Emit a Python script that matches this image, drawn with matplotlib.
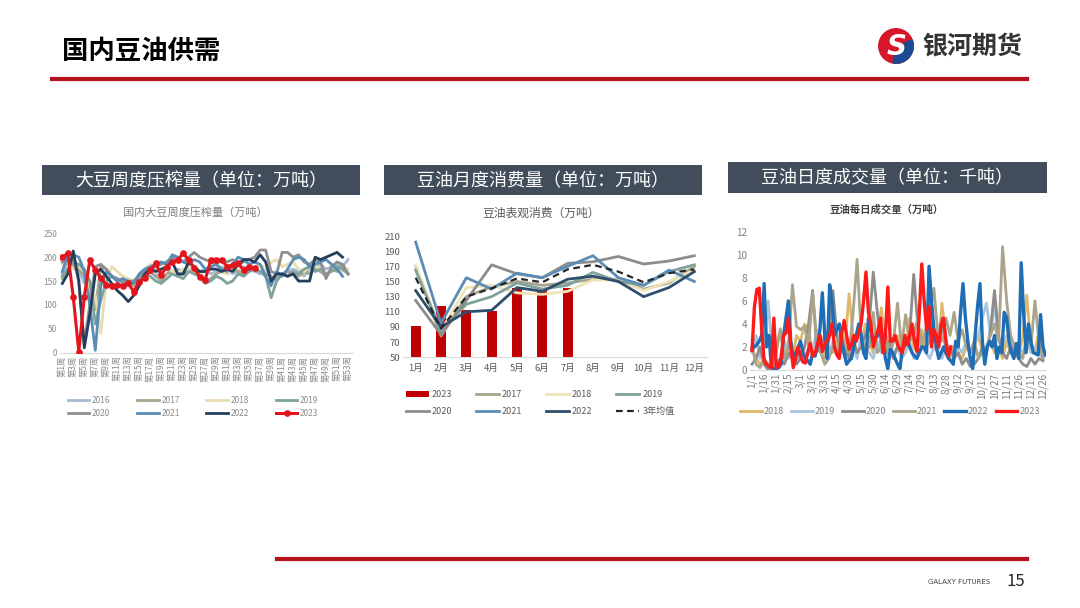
import numpy as np
import matplotlib
matplotlib.use("Agg")
import matplotlib.pyplot as plt
from matplotlib.patches import Rectangle, Wedge, Circle
from matplotlib.lines import Line2D

plt.rcParams['font.family'] = ['Noto Sans CJK SC', 'DejaVu Sans']

W, H = 1080, 608

# ---------------- chart 1: weekly crush (万吨) ----------------
crush_2016 = [165, 190, 185, 170, 145, 150, 100, 155, 165, 160, 150, 155, 150, 145, 160, 165, 170, 160, 170, 175,
              165, 175, 170, 180, 165, 170, 175, 165, 170, 180, 175, 165, 170, 180, 175, 170, 165, 175, 160, 150,
              165, 170, 175, 170, 160, 175, 180, 185, 175, 180, 185, 180, 195]
crush_2017 = [155, 175, 180, 175, 160, 120, 90, 180, 175, 160, 150, 155, 150, 140, 155, 165, 170, 160, 150, 165,
              170, 160, 165, 170, 175, 165, 150, 155, 165, 170, 165, 175, 170, 165, 180, 175, 170, 165, 160, 155,
              165, 170, 165, 160, 170, 165, 175, 170, 160, 175, 170, 185, 165]
crush_2018 = [185, 190, 175, 180, 170, 130, 120, 40, 150, 180, 170, 160, 155, 150, 165, 175, 185, 170, 175, 180,
              170, 165, 175, 180, 170, 160, 175, 180, 185, 170, 165, 175, 180, 170, 175, 180, 185, 175, 190, 195,
              180, 185, 190, 175, 170, 180, 185, 175, 165, 175, 180, 170, 175]
crush_2019 = [160, 175, 190, 185, 175, 150, 60, 110, 150, 160, 155, 145, 150, 150, 160, 165, 160, 150, 145, 155,
              165, 160, 155, 170, 165, 160, 145, 150, 160, 155, 145, 150, 165, 160, 170, 175, 170, 160, 115, 150,
              165, 160, 170, 165, 175, 180, 170, 175, 165, 170, 180, 175, 165]
crush_2020 = [190, 195, 195, 150, 20, 100, 180, 185, 175, 160, 155, 150, 145, 150, 160, 170, 175, 180, 185, 190,
              200, 195, 190, 200, 210, 200, 195, 190, 185, 195, 190, 195, 185, 190, 195, 200, 215, 215, 170, 165,
              210, 210, 200, 205, 190, 185, 195, 190, 155, 180, 190, 185, 165]
crush_2021 = [170, 205, 205, 200, 170, 100, 5, 140, 170, 160, 150, 155, 150, 145, 165, 175, 180, 185, 190, 185,
              205, 200, 190, 185, 195, 190, 175, 180, 185, 175, 170, 185, 200, 195, 185, 190, 185, 160, 140, 170,
              160, 175, 195, 200, 195, 180, 185, 190, 195, 185, 175, 160]
crush_2022 = [145, 165, 213, 150, 10, 80, 165, 175, 160, 145, 130, 120, 107, 120, 140, 165, 175, 170, 175, 180,
              190, 165, 165, 190, 180, 170, 170, 175, 175, 170, 175, 170, 185, 195, 195, 190, 205, 190, 150, 165,
              165, 160, 165, 150, 150, 150, 200, 195, 200, 205, 210, 200]
crush_2023 = [200, 208, 116, 2, 117, 194, 173, 156, 142, 140, 142, 140, 145, 128, 149, 156, 173, 187, 163, 180,
              190, 194, 208, 194, 177, 159, 152, 194, 194, 194, 180, 184, 187, 173, 180, 177]

crush_series = [("2016", crush_2016, "#A3BCD3"), ("2017", crush_2017, "#A5A58D"),
                ("2018", crush_2018, "#E9DDB0"), ("2019", crush_2019, "#7FA39C"),
                ("2020", crush_2020, "#8F8F8F"), ("2021", crush_2021, "#5A8CB6"),
                ("2022", crush_2022, "#243F5E"), ("2023", crush_2023, "#E3151C")]
week_labels = ["第%d周" % w for w in range(1, 54, 2)]

# ---------------- chart 2: monthly consumption (万吨) ----------------
months = ["1月", "2月", "3月", "4月", "5月", "6月", "7月", "8月", "9月", "10月", "11月", "12月"]
cons_2023 = [91, 118, 112, 111, 141, 137, 141]
cons_2017 = [170, 78, 130, 143, 150, 145, 148, 153, 153, 140, 148, 170]
cons_2018 = [172, 85, 142, 145, 135, 133, 137, 152, 152, 138, 150, 165]
cons_2019 = [165, 85, 120, 130, 148, 140, 145, 162, 150, 145, 163, 172]
cons_2020 = [125, 80, 125, 172, 160, 155, 174, 176, 183, 173, 177, 184]
cons_2021 = [202, 95, 155, 140, 161, 155, 170, 184, 155, 145, 165, 150]
cons_2022 = [138, 90, 110, 112, 142, 137, 153, 157, 150, 130, 142, 163]
cons_avg3 = [155, 88, 130, 141, 154, 149, 166, 172, 163, 149, 161, 166]

# ---------------- chart 3: daily volume (万吨) ----------------
date_labels = ["1/1", "1/16", "1/31", "2/15", "3/1", "3/16", "3/31", "4/15", "4/30", "5/15", "5/30", "6/14",
               "6/29", "7/14", "7/29", "8/13", "8/28", "9/12", "9/27", "10/12", "10/27", "11/11", "11/26",
               "12/11", "12/26"]
# 2018-2021 sampled every 5 days, 2022/2023 every 3 days
vol_2018 = [2.0, 1.0, 0.5, 1.0, 0.3, 0.5, 2.0, 3.6, 1.5, 2.5, 1.0, 3.0, 2.5, 4.0, 3.5, 1.5, 2.5, 3.0, 1.0, 2.0,
            1.5, 2.5, 3.0, 2.0, 6.6, 3.0, 1.5, 2.0, 4.0, 2.5, 1.5, 3.0, 5.4, 2.0, 1.5, 2.5, 3.0, 1.5, 2.0, 4.5,
            2.0, 1.5, 3.5, 2.0, 2.5, 3.0, 1.5, 5.8, 2.5, 1.0, 2.0, 1.5, 1.0, 2.0, 1.5, 2.5, 3.0, 1.5, 2.0, 2.5,
            1.5, 2.0, 1.0, 2.5, 1.5, 2.0, 1.0, 3.0, 6.5, 2.0, 1.5, 3.5, 1.0]
vol_2019 = [1.5, 3.0, 1.0, 2.0, 6.0, 1.5, 0.5, 1.0, 2.5, 1.0, 1.5, 0.8, 1.5, 1.0, 2.0, 1.5, 3.5, 1.5, 2.0, 1.0,
            2.5, 1.5, 2.0, 1.0, 1.5, 2.0, 1.0, 3.0, 2.0, 1.5, 1.0, 2.5, 1.5, 2.0, 1.0, 1.5, 2.0, 1.0, 1.5, 2.5,
            1.0, 1.5, 2.0, 1.5, 1.0, 2.0, 1.5, 1.0, 2.0, 1.5, 1.0, 2.0, 1.5, 2.5, 1.5, 2.0, 3.0, 4.5, 5.8, 3.0,
            5.7, 2.5, 2.0, 3.0, 2.5, 1.5, 2.0, 1.5, 2.5, 1.5, 2.0, 1.5, 1.0]
vol_2020 = [0.5, 1.0, 2.0, 0.5, 0.0, 0.3, 0.5, 1.0, 0.5, 1.5, 1.0, 0.5, 1.0, 2.0, 4.0, 6.9, 2.0, 1.5, 3.0, 2.5,
            6.9, 3.0, 1.5, 2.0, 1.0, 2.5, 1.5, 2.0, 3.0, 4.0, 8.5, 5.0, 2.0, 1.5, 2.5, 1.0, 2.0, 1.5, 2.5, 3.0,
            8.3, 4.0, 2.5, 3.0, 7.8, 3.0, 2.0, 4.5, 1.5, 2.0, 1.0, 1.5, 0.5, 1.0, 0.3, 0.5, 1.0, 2.0, 1.5, 3.5,
            6.9, 3.0, 1.5, 1.0, 2.0, 1.5, 1.0, 0.5, 0.3, 1.0, 0.5, 1.0, 0.8]
vol_2021 = [2.0, 0.5, 0.2, 1.0, 0.5, 0.3, 1.5, 3.5, 1.0, 2.0, 7.4, 3.8, 3.5, 3.8, 2.0, 6.7, 2.5, 1.5, 0.5, 1.0,
            2.0, 1.5, 3.5, 2.0, 1.5, 4.9, 9.6, 3.0, 1.5, 2.0, 5.0, 1.5, 2.0, 3.5, 1.0, 2.5, 5.8, 2.0, 4.8, 2.5,
            3.0, 4.5, 2.0, 3.5, 5.0, 7.1, 3.0, 2.5, 4.5, 3.0, 5.0, 2.5, 3.5, 2.0, 1.5, 2.5, 1.0, 1.5, 2.0, 3.0,
            4.0, 2.5, 10.7, 6.0, 3.0, 2.0, 1.5, 1.0, 3.0, 2.0, 6.0, 2.5, 1.0]
vol_2022 = [1.8, 2.0, 2.2, 2.5, 3.0, 7.5, 2.0, 3.0, 0.2, 0.1, 0.1, 0.2, 0.5, 3.0, 4.5, 6.0, 2.5, 1.0, 1.5, 2.0,
            2.5, 1.5, 1.0, 0.8, 0.5, 1.5, 1.2, 2.0, 3.5, 6.7, 3.0, 1.0, 7.4, 6.0, 3.0, 3.5, 4.0, 2.5, 1.5, 0.5,
            0.8, 1.0, 2.0, 3.0, 4.0, 3.0, 1.5, 1.0, 4.5, 3.5, 2.5, 2.8, 3.0, 3.5, 2.5, 1.0, 0.1, 1.8, 1.5, 1.0,
            0.5, 0.1, 1.8, 2.2, 2.7, 2.0, 1.5, 1.2, 1.0, 1.5, 2.0, 2.0, 1.5, 9.0, 6.0, 3.5, 2.0, 1.0, 1.5, 2.0,
            1.5, 1.0, 0.8, 0.5, 2.5, 2.0, 5.0, 7.5, 4.5, 2.5, 1.0, 0.1, 3.0, 5.5, 7.5, 2.5, 0.5, 2.0, 2.5, 2.0,
            3.0, 1.0, 2.0, 1.5, 5.0, 4.5, 2.5, 1.5, 1.0, 2.3, 1.0, 9.3, 5.0, 1.5, 4.0, 2.5, 1.5, 1.4, 1.3, 4.8,
            2.0, 1.3]
vol_2023 = [1.7, 5.5, 7.0, 7.1, 3.5, 0.8, 0.5, 0.3, 0.2, 4.5, 0.2, 0.3, 1.0, 3.0, 3.2, 4.5, 2.0, 0.2, 1.0, 2.0,
            1.2, 0.7, 0.6, 1.5, 2.3, 1.2, 1.5, 2.2, 3.0, 1.6, 2.2, 2.6, 3.0, 4.0, 2.0, 1.3, 1.0, 3.2, 4.3, 3.0,
            1.8, 2.2, 3.0, 2.5, 3.2, 4.0, 6.0, 8.5, 5.0, 4.0, 2.0, 2.8, 3.5, 4.5, 1.5, 3.0, 7.2, 2.5, 2.5, 3.0,
            2.2, 1.8, 1.5, 3.0, 2.2, 3.0, 4.0, 2.5, 1.6, 5.0, 9.2, 6.0, 3.5, 5.5, 2.0, 3.5, 3.0, 2.0, 4.0, 4.5,
            2.5, 1.2, 2.0]
vol_series = [("2018", vol_2018, 5, "#E0B86A", 2.0), ("2019", vol_2019, 5, "#A9C4DE", 2.0),
              ("2020", vol_2020, 5, "#8C8C8C", 2.0), ("2021", vol_2021, 5, "#A9A48A", 2.0),
              ("2022", vol_2022, 3, "#1F6DB5", 2.4), ("2023", vol_2023, 3, "#FF1A1A", 2.4)]


def fx(px):
    return px / W


def fy(py):
    return 1 - py / H


def add_axes_px(left, top, right, bottom):
    return fig.add_axes([fx(left), fy(bottom), (right - left) / W, (bottom - top) / H])


def style_axes(ax, tick_color="#7F7F7F", size=6):
    for s in ["top", "right", "left"]:
        ax.spines[s].set_visible(False)
    ax.spines["bottom"].set_color("#D9D9D9")
    ax.tick_params(axis="both", length=0, labelsize=size, colors=tick_color, pad=2)


def header_box(left, top, right, bottom, text):
    fig.add_artist(Rectangle((fx(left), fy(bottom)), (right - left) / W, (bottom - top) / H,
                             transform=fig.transFigure, facecolor="#414D5B", edgecolor="none"))
    fig.text(fx((left + right) / 2), fy((top + bottom) / 2 + 1), text, color="white", fontsize=13,
             ha="center", va="center")


def row_major(items, ncol):
    # matplotlib fills legend columns first; reorder so entries read across rows
    nrow = int(np.ceil(len(items) / ncol))
    return [items[r * ncol + c] for c in range(ncol) for r in range(nrow) if r * ncol + c < len(items)]


fig = plt.figure(figsize=(10.8, 6.08), dpi=100)
fig.patch.set_facecolor("white")

# page title and decoration
fig.text(fx(62), fy(51), "国内豆油供需", fontsize=19, fontweight="bold", color="black", va="center")
fig.add_artist(Line2D([fx(52), fx(1027)], [fy(79), fy(79)], transform=fig.transFigure,
                      color="#B5121B", lw=3))
fig.add_artist(Line2D([fx(277), fx(1027)], [fy(559), fy(559)], transform=fig.transFigure,
                      color="#B5121B", lw=3))
fig.text(fx(990), fy(582), "GALAXY FUTURES", fontsize=5, color="#404040", ha="right", va="center",
         family="Liberation Sans Narrow")
fig.text(fx(1025), fy(581), "15", fontsize=12, color="#262626", ha="right", va="center")

# logo
logo = fig.add_axes([fx(876), fy(66), 40 / W, 40 / H])
logo.set_xlim(-1.1, 1.1)
logo.set_ylim(-1.1, 1.1)
logo.set_aspect("equal")
logo.axis("off")
logo.add_patch(Circle((0, 0), 0.95, color="#D7182A"))
logo.add_patch(Wedge((0, 0), 0.95, -100, 20, width=0.45, color="#1C4A94"))
logo.text(0.02, -0.05, "S", fontsize=20, fontweight="bold", color="white", ha="center", va="center",
          style="italic", family="DejaVu Sans")
fig.text(fx(922), fy(47), "银河期货", fontsize=18, fontweight="bold", color="#333333", va="center")

# headers
header_box(42, 165, 360, 195, "大豆周度压榨量（单位：万吨）")
header_box(384, 165, 702, 195, "豆油月度消费量（单位：万吨）")
header_box(728, 162, 1047, 193, "豆油日度成交量（单位：千吨）")

# ---- chart 1 ----
ax1 = add_axes_px(60, 233.3, 353, 352.7)
for name, vals, col in crush_series:
    weeks = np.arange(1, len(vals) + 1)
    if name == "2023":
        ax1.plot(weeks, vals, color=col, lw=2.2, marker="o", ms=3.8, label=name, zorder=5)
    else:
        ax1.plot(weeks, vals, color=col, lw=2.0, label=name)
ax1.set_ylim(0, 250)
ax1.set_yticks(range(0, 251, 50))
ax1.set_xlim(0.58, 53.9)
ax1.set_xticks(range(1, 54, 2))
ax1.set_xticklabels(week_labels, rotation=90, fontsize=5.5)
style_axes(ax1, "#8C8C8C", 6)
fig.text(fx(195), fy(212), "国内大豆周度压榨量（万吨）", fontsize=8, color="#7F7F7F", ha="center", va="center")
h1, l1 = ax1.get_legend_handles_labels()
fig.legend(row_major(h1, 4), row_major(l1, 4), loc="center", bbox_to_anchor=(fx(193), fy(407)), ncol=4,
           frameon=False, fontsize=6, handlelength=2.6, handletextpad=0.3, columnspacing=3.2,
           labelcolor="#8C8C8C", labelspacing=0.45)

# ---- chart 2 ----
ax2 = add_axes_px(403, 236, 707, 357.3)
x2 = np.arange(len(months))
ax2.bar(x2[:len(cons_2023)], cons_2023, width=0.4, color="#C00000", label="2023", zorder=1)
line_specs = [("2017", cons_2017, "#A5A58D"), ("2018", cons_2018, "#EFE3B8"),
              ("2019", cons_2019, "#7FA39C"), ("2020", cons_2020, "#8C8C8C"),
              ("2021", cons_2021, "#5A8CB6"), ("2022", cons_2022, "#2E4E6B")]
for name, vals, col in line_specs:
    ax2.plot(x2, vals, color=col, lw=2.0, label=name, zorder=3)
ax2.plot(x2, cons_avg3, color="#262626", lw=1.6, ls=(0, (3, 2)), label="3年均值", zorder=4)
ax2.set_ylim(50, 210)
ax2.set_yticks(range(50, 211, 20))
ax2.set_xlim(-0.5, 11.5)
ax2.set_xticks(x2)
ax2.set_xticklabels(months)
style_axes(ax2, "#595959", 6.8)
ax2.tick_params(axis="x", pad=5)
fig.text(fx(541), fy(213), "豆油表观消费（万吨）", fontsize=8.5, color="#595959", ha="center", va="center")
h2, l2 = ax2.get_legend_handles_labels()
order = [l2.index(k) for k in ["2023", "2017", "2018", "2019", "2020", "2021", "2022", "3年均值"]]
h2 = [h2[i] for i in order]
l2 = [l2[i] for i in order]
fig.legend(row_major(h2, 4), row_major(l2, 4), loc="center", bbox_to_anchor=(fx(540), fy(403)),
           ncol=4, frameon=False, fontsize=6.5, handlelength=2.6, handletextpad=0.3, columnspacing=2.6,
           labelcolor="#595959", labelspacing=0.9)

# ---- chart 3 ----
ax3 = add_axes_px(750, 231.7, 1046, 370)
for name, vals, step, col, lw in vol_series:
    days = np.arange(len(vals)) * step
    ax3.plot(days, vals, color=col, lw=lw, label=name)
ax3.set_ylim(0, 12)
ax3.set_yticks(range(0, 13, 2))
ax3.set_xlim(-2.5, 363.7)
ax3.set_xticks(range(0, 361, 15))
ax3.set_xticklabels(date_labels, rotation=90)
style_axes(ax3, "#7F7F7F", 7.2)
fig.text(fx(887), fy(210), "豆油每日成交量（万吨）", fontsize=7.5, fontweight="bold", color="#404040",
         ha="center", va="center")
h3, l3 = ax3.get_legend_handles_labels()
fig.legend(h3, l3, loc="center", bbox_to_anchor=(fx(890), fy(412)), ncol=6, frameon=False, fontsize=6.5,
           handlelength=2.4, handletextpad=0.2, columnspacing=0.8, labelcolor="#7F7F7F")

fig.savefig("out.png", dpi=100)
